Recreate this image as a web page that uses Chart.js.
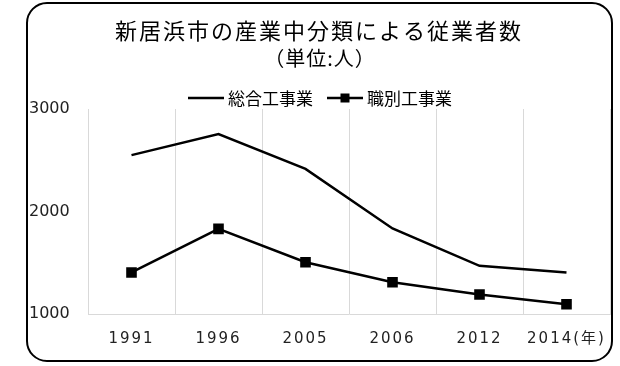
<!DOCTYPE html>
<html><head><meta charset="utf-8">
<script src="https://cdn.jsdelivr.net/npm/chart.js@4/dist/chart.umd.min.js"></script>
<style>html,body{margin:0;padding:0;background:#fff}#wrap{width:620px;height:366px}</style>
</head><body><div id="wrap"><canvas id="c" width="620" height="366"></canvas></div>
<script>
const titleText = '新居浜市の産業中分類による従業者数';
const subtitleText = '（単位:人）';
const categories = ['1991', '1996', '2005', '2006', '2012', '2014(年)'];
const seriesNames = ['総合工事業', '職別工事業'];
const generalConstruction = [2550, 2755, 2415, 1835, 1470, 1405];
const specialtyConstruction = [1405, 1830, 1505, 1310, 1190, 1095];
const yTicks = [1000, 2000, 3000];

const CJK = '"Noto Sans CJK JP", "Noto Sans", sans-serif';

const decor = {
  id: 'decor',
  beforeDraw(chart) {
    const ctx = chart.ctx;
    ctx.save();
    ctx.fillStyle = '#fff';
    ctx.fillRect(0, 0, chart.width, chart.height);
    ctx.beginPath();
    ctx.roundRect(27, 3, 585, 358, 20);
    ctx.fillStyle = '#fff';
    ctx.fill();
    ctx.lineWidth = 2;
    ctx.strokeStyle = '#000';
    ctx.stroke();
    ctx.restore();
  },
  afterDraw(chart) {
    const ctx = chart.ctx;
    ctx.save();
    ctx.fillStyle = '#000';
    ctx.textAlign = 'center';
    ctx.textBaseline = 'middle';
    ctx.font = '22px ' + CJK;
    ctx.letterSpacing = '2px';
    ctx.fillText(titleText, 319, 31);
    ctx.font = '20px ' + CJK;
    ctx.letterSpacing = '1px';
    ctx.fillText(subtitleText, 320, 58);
    ctx.letterSpacing = '0px';
    // legend
    ctx.font = '17px ' + CJK;
    const lineW = 36, gap = 4, itemGap = 14;
    const widths = chart.data.datasets.map(d => ctx.measureText(d.label).width);
    let total = 0;
    widths.forEach((w, i) => { total += lineW + gap + w + (i ? itemGap : 0); });
    let x = 320 - total / 2;
    const ly = 98;
    ctx.textAlign = 'left';
    chart.data.datasets.forEach((d, i) => {
      if (i) x += itemGap;
      ctx.beginPath();
      ctx.moveTo(x, ly);
      ctx.lineTo(x + lineW, ly);
      ctx.lineWidth = 2.5;
      ctx.strokeStyle = d.borderColor;
      ctx.stroke();
      if (d.pointRadius > 0) {
        ctx.fillStyle = d.pointBackgroundColor;
        ctx.fillRect(x + lineW / 2 - 4.5, ly - 4.5, 9, 9);
      }
      ctx.fillStyle = '#000';
      ctx.fillText(d.label, x + lineW + gap, ly + 1);
      x += lineW + gap + widths[i];
    });
    ctx.restore();
  }
};

new Chart(document.getElementById('c'), {
  type: 'line',
  data: {
    labels: categories,
    datasets: [
      {
        label: seriesNames[0],
        data: generalConstruction,
        borderColor: '#000',
        backgroundColor: '#000',
        borderWidth: 2.5,
        pointRadius: 0,
        pointHoverRadius: 0,
        tension: 0
      },
      {
        label: seriesNames[1],
        data: specialtyConstruction,
        borderColor: '#000',
        backgroundColor: '#000',
        pointBackgroundColor: '#000',
        pointBorderColor: '#000',
        borderWidth: 2.5,
        pointStyle: 'rect',
        pointRadius: 7.5,
        pointBorderWidth: 0,
        tension: 0
      }
    ]
  },
  options: {
    responsive: false,
    animation: false,
    events: [],
    layout: { padding: { top: 109, left: 29, right: 10, bottom: 0 } },
    plugins: { legend: { display: false }, title: { display: false }, tooltip: { enabled: false } },
    scales: {
      x: {
        type: 'category',
        offset: true,
        grid: { offset: true, color: '#d9d9d9', lineWidth: 1, drawTicks: false },
        border: { color: '#d9d9d9', width: 1 },
        ticks: { color: '#222', font: { family: '"DejaVu Sans", "Noto Sans CJK JP", sans-serif', size: 15 }, padding: 16, maxRotation: 0, autoSkip: false },
        afterFit(scale) {
          scale.height = 52;
          if (!scale._lsWrapped) {
            const orig = scale.drawLabels;
            scale.drawLabels = function (area) {
              const c = this.ctx;
              c.save();
              c.letterSpacing = '2px';
              orig.call(this, area);
              c.restore();
            };
            scale._lsWrapped = true;
          }
        }
      },
      y: {
        min: 1000,
        max: 3000,
        afterBuildTicks(scale) { scale.ticks = yTicks.map(v => ({ value: v })); },
        grid: { display: false, drawTicks: false },
        border: { display: false },
        ticks: { color: '#222', crossAlign: 'far', font: { family: '"DejaVu Sans", sans-serif', size: 16 }, padding: 8, callback: v => String(v) },
        afterFit(scale) { scale.width = 59; }
      }
    }
  },
  plugins: [decor]
});
</script>
</body></html>
